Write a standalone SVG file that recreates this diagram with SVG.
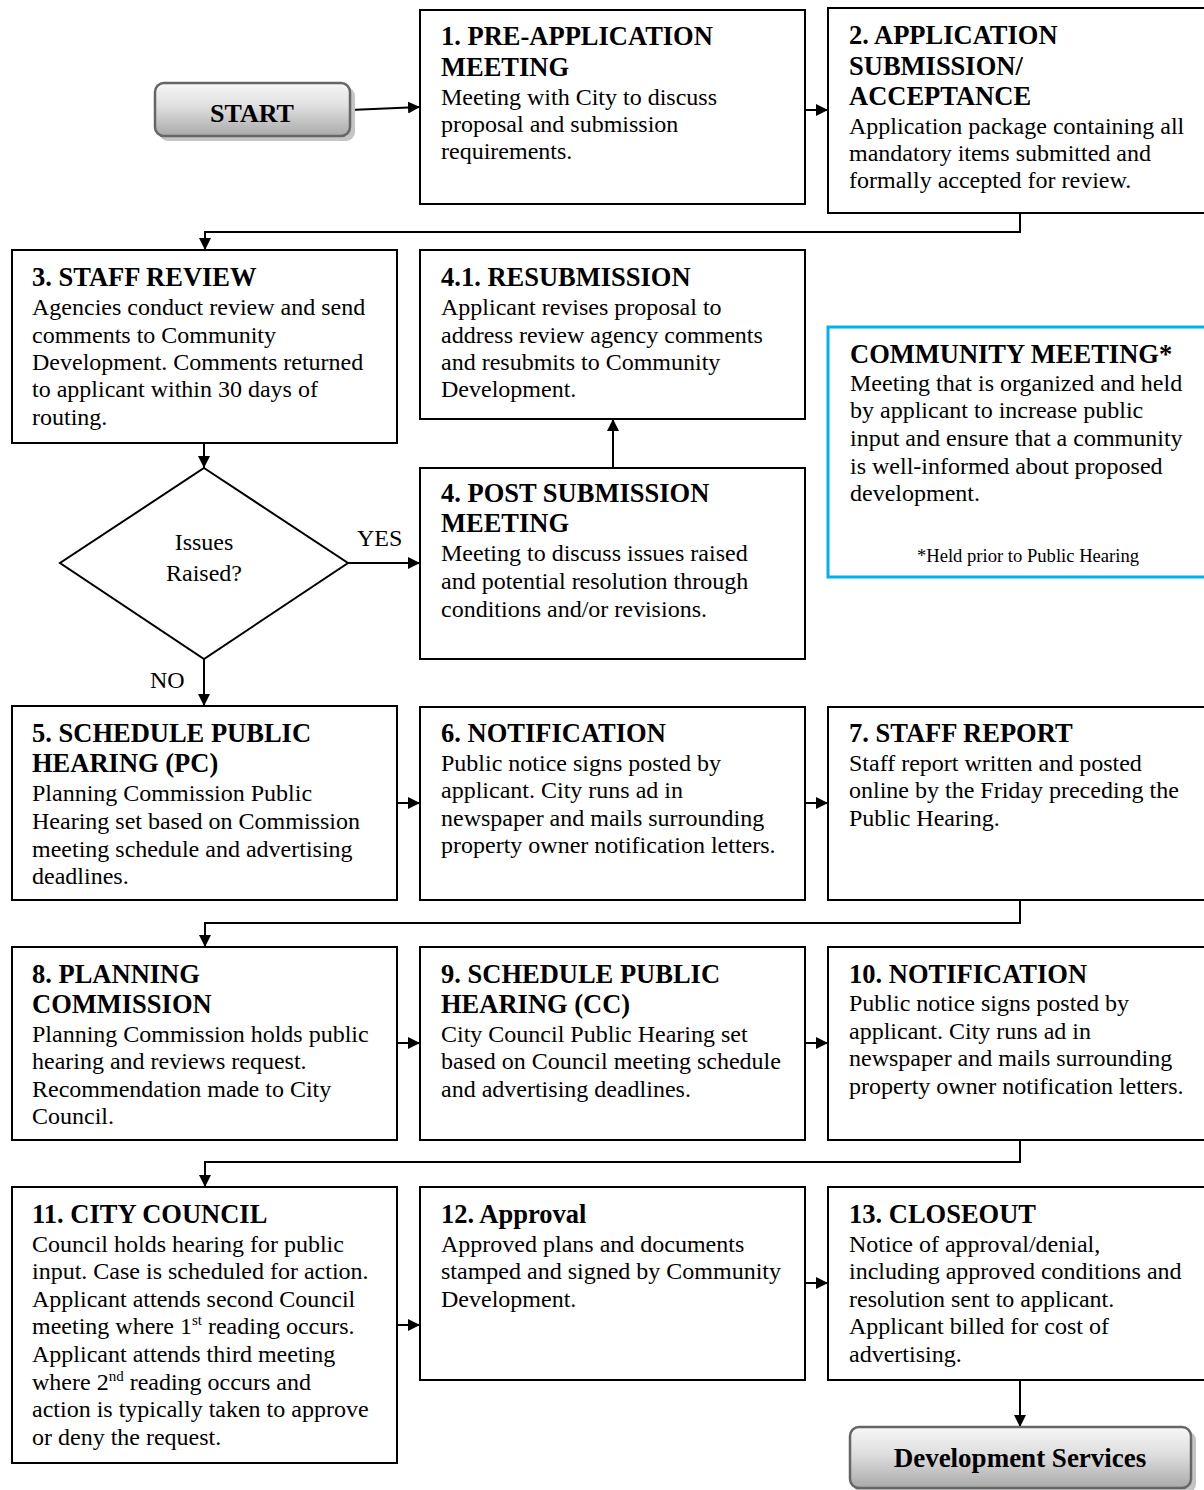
<svg xmlns="http://www.w3.org/2000/svg" width="1204" height="1490" viewBox="0 0 1204 1490">
<defs>
<linearGradient id="btn" x1="0" y1="0" x2="0" y2="1">
<stop offset="0" stop-color="#f7f7f7"/>
<stop offset="0.45" stop-color="#dedede"/>
<stop offset="1" stop-color="#a9a9a9"/>
</linearGradient>
<marker id="arr" viewBox="0 0 12 12" refX="12" refY="6" markerWidth="12" markerHeight="12" markerUnits="userSpaceOnUse" orient="auto">
<path d="M0,0 L12,6 L0,12 Z" fill="#000"/>
</marker>
<style>
.box{fill:#fff;stroke:#000;stroke-width:2}
.cm{fill:#fff;stroke:#00b0f0;stroke-width:3}
.btn{fill:url(#btn);stroke:#666;stroke-width:2.5}
.shd{fill:#c4c4c4}
.t{font-family:"Liberation Serif","Times New Roman",serif;font-weight:bold;font-size:26.5px;fill:#000}
.b{font-family:"Liberation Serif","Times New Roman",serif;font-size:24px;fill:#000}
.fn{font-family:"Liberation Serif","Times New Roman",serif;font-size:18.6px;fill:#000}
.bt{font-family:"Liberation Serif","Times New Roman",serif;font-weight:bold;font-size:26px;fill:#000}
.sup{font-size:15px}
.c{fill:none;stroke:#000;stroke-width:2;marker-end:url(#arr)}
</style>
</defs>
<rect width="1204" height="1490" fill="#fff"/>

<g id="connectors">
<path class="c" d="M350,110 L420,107"/>
<path class="c" d="M805,110 L828,110"/>
<path class="c" d="M1020,213 V232 H205 V250"/>
<path class="c" d="M204,443 V468"/>
<path class="c" d="M348,563 H420"/>
<path class="c" d="M613,468 V419"/>
<path class="c" d="M204,659 V706"/>
<path class="c" d="M397,803 H420"/>
<path class="c" d="M805,803 H828"/>
<path class="c" d="M1020,900 V923 H205 V947"/>
<path class="c" d="M397,1043 H420"/>
<path class="c" d="M805,1043 H828"/>
<path class="c" d="M1020,1140 V1162 H205 V1187"/>
<path class="c" d="M397,1325 H420"/>
<path class="c" d="M805,1283 H828"/>
<path class="c" d="M1020,1380 V1427"/>
<text class="b" x="357" y="546">YES</text>
<text class="b" x="150" y="688">NO</text>
</g>

<g id="start">
<rect class="shd" x="159" y="87" width="196" height="54" rx="9"/>
<rect class="btn" x="155" y="83" width="195" height="53" rx="9"/>
<text class="bt" x="252" y="122" text-anchor="middle">START</text>
</g>

<g id="n1">
<rect class="box" x="420" y="10" width="385" height="194"/>
<text class="t" x="441" y="45">1. PRE-APPLICATION</text>
<text class="t" x="441" y="76">MEETING</text>
<text class="b" x="441" y="105">Meeting with City to discuss</text>
<text class="b" x="441" y="132">proposal and submission</text>
<text class="b" x="441" y="159">requirements.</text>
</g>

<g id="n2">
<rect class="box" x="828" y="8" width="390" height="205"/>
<text class="t" x="849" y="44">2. APPLICATION</text>
<text class="t" x="849" y="75">SUBMISSION/</text>
<text class="t" x="849" y="105">ACCEPTANCE</text>
<text class="b" x="849" y="134">Application package containing all</text>
<text class="b" x="849" y="161">mandatory items submitted and</text>
<text class="b" x="849" y="188">formally accepted for review.</text>
</g>

<g id="n3">
<rect class="box" x="12" y="250" width="385" height="193"/>
<text class="t" x="32" y="286">3. STAFF REVIEW</text>
<text class="b" x="32" y="315">Agencies conduct review and send</text>
<text class="b" x="32" y="343">comments to Community</text>
<text class="b" x="32" y="370">Development. Comments returned</text>
<text class="b" x="32" y="397">to applicant within 30 days of</text>
<text class="b" x="32" y="425">routing.</text>
</g>

<g id="n41">
<rect class="box" x="420" y="250" width="385" height="169"/>
<text class="t" x="441" y="286">4.1. RESUBMISSION</text>
<text class="b" x="441" y="315">Applicant revises proposal to</text>
<text class="b" x="441" y="343">address review agency comments</text>
<text class="b" x="441" y="370">and resubmits to Community</text>
<text class="b" x="441" y="397">Development.</text>
</g>

<g id="community">
<rect class="cm" x="828" y="327" width="390" height="250"/>
<text class="t" x="850" y="363">COMMUNITY MEETING*</text>
<text class="b" x="850" y="391">Meeting that is organized and held</text>
<text class="b" x="850" y="418">by applicant to increase public</text>
<text class="b" x="850" y="446">input and ensure that a community</text>
<text class="b" x="850" y="474">is well-informed about proposed</text>
<text class="b" x="850" y="501">development.</text>
<text class="fn" x="1028" y="562" text-anchor="middle">*Held prior to Public Hearing</text>
</g>

<g id="decision">
<polygon points="204,468 348,563 204,659 60,563" fill="#fff" stroke="#000" stroke-width="2"/>
<text class="b" x="204" y="550" text-anchor="middle">Issues</text>
<text class="b" x="204" y="581" text-anchor="middle">Raised?</text>
</g>

<g id="n4">
<rect class="box" x="420" y="468" width="385" height="191"/>
<text class="t" x="441" y="502">4. POST SUBMISSION</text>
<text class="t" x="441" y="532">MEETING</text>
<text class="b" x="441" y="561">Meeting to discuss issues raised</text>
<text class="b" x="441" y="589">and potential resolution through</text>
<text class="b" x="441" y="617">conditions and/or revisions.</text>
</g>

<g id="n5">
<rect class="box" x="12" y="706" width="385" height="194"/>
<text class="t" x="32" y="742">5. SCHEDULE PUBLIC</text>
<text class="t" x="32" y="772">HEARING (PC)</text>
<text class="b" x="32" y="801">Planning Commission Public</text>
<text class="b" x="32" y="829">Hearing set based on Commission</text>
<text class="b" x="32" y="857">meeting schedule and advertising</text>
<text class="b" x="32" y="884">deadlines.</text>
</g>

<g id="n6">
<rect class="box" x="420" y="707" width="385" height="193"/>
<text class="t" x="441" y="742">6. NOTIFICATION</text>
<text class="b" x="441" y="771">Public notice signs posted by</text>
<text class="b" x="441" y="798">applicant. City runs ad in</text>
<text class="b" x="441" y="826">newspaper and mails surrounding</text>
<text class="b" x="441" y="853">property owner notification letters.</text>
</g>

<g id="n7">
<rect class="box" x="828" y="707" width="390" height="193"/>
<text class="t" x="849" y="742">7. STAFF REPORT</text>
<text class="b" x="849" y="771">Staff report written and posted</text>
<text class="b" x="849" y="798">online by the Friday preceding the</text>
<text class="b" x="849" y="826">Public Hearing.</text>
</g>

<g id="n8">
<rect class="box" x="12" y="947" width="385" height="193"/>
<text class="t" x="32" y="983">8. PLANNING</text>
<text class="t" x="32" y="1013">COMMISSION</text>
<text class="b" x="32" y="1042">Planning Commission holds public</text>
<text class="b" x="32" y="1069">hearing and reviews request.</text>
<text class="b" x="32" y="1097">Recommendation made to City</text>
<text class="b" x="32" y="1124">Council.</text>
</g>

<g id="n9">
<rect class="box" x="420" y="947" width="385" height="193"/>
<text class="t" x="441" y="983">9. SCHEDULE PUBLIC</text>
<text class="t" x="441" y="1013">HEARING (CC)</text>
<text class="b" x="441" y="1042">City Council Public Hearing set</text>
<text class="b" x="441" y="1069">based on Council meeting schedule</text>
<text class="b" x="441" y="1097">and advertising deadlines.</text>
</g>

<g id="n10">
<rect class="box" x="828" y="947" width="390" height="193"/>
<text class="t" x="849" y="983">10. NOTIFICATION</text>
<text class="b" x="849" y="1011">Public notice signs posted by</text>
<text class="b" x="849" y="1039">applicant. City runs ad in</text>
<text class="b" x="849" y="1066">newspaper and mails surrounding</text>
<text class="b" x="849" y="1094">property owner notification letters.</text>
</g>

<g id="n11">
<rect class="box" x="12" y="1187" width="385" height="276"/>
<text class="t" x="32" y="1223">11. CITY COUNCIL</text>
<text class="b" x="32" y="1252">Council holds hearing for public</text>
<text class="b" x="32" y="1279">input. Case is scheduled for action.</text>
<text class="b" x="32" y="1307">Applicant attends second Council</text>
<text class="b" x="32" y="1334">meeting where 1<tspan class="sup" dy="-9">st</tspan><tspan dy="9"> reading occurs.</tspan></text>
<text class="b" x="32" y="1362">Applicant attends third meeting</text>
<text class="b" x="32" y="1390">where 2<tspan class="sup" dy="-9">nd</tspan><tspan dy="9"> reading occurs and</tspan></text>
<text class="b" x="32" y="1417">action is typically taken to approve</text>
<text class="b" x="32" y="1445">or deny the request.</text>
</g>

<g id="n12">
<rect class="box" x="420" y="1187" width="385" height="193"/>
<text class="t" x="441" y="1223">12. Approval</text>
<text class="b" x="441" y="1252">Approved plans and documents</text>
<text class="b" x="441" y="1279">stamped and signed by Community</text>
<text class="b" x="441" y="1307">Development.</text>
</g>

<g id="n13">
<rect class="box" x="828" y="1187" width="390" height="193"/>
<text class="t" x="849" y="1223">13. CLOSEOUT</text>
<text class="b" x="849" y="1252">Notice of approval/denial,</text>
<text class="b" x="849" y="1279">including approved conditions and</text>
<text class="b" x="849" y="1307">resolution sent to applicant.</text>
<text class="b" x="849" y="1334">Applicant billed for cost of</text>
<text class="b" x="849" y="1362">advertising.</text>
</g>

<g id="devservices">
<rect class="shd" x="854" y="1431" width="342" height="62" rx="9"/>
<rect class="btn" x="850" y="1427" width="341" height="61" rx="9"/>
<text class="bt" x="1020" y="1467" text-anchor="middle" style="font-size:27px">Development Services</text>
</g>
</svg>
